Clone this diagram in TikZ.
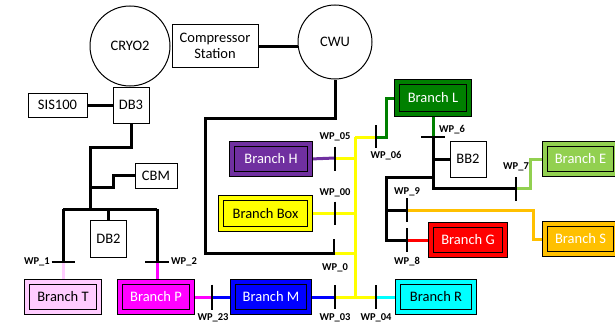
\documentclass[tikz,border=0pt]{standalone}
\usepackage{fontspec}
\setmainfont{Carlito}
\usetikzlibrary{backgrounds,calc}

\definecolor{cT}{HTML}{FFCCFF}
\definecolor{cP}{HTML}{FF00FF}
\definecolor{cM}{HTML}{0000FF}
\definecolor{cR}{HTML}{00FFFF}
\definecolor{cBox}{HTML}{FFFF00}
\definecolor{cH}{HTML}{7030A0}
\definecolor{cL}{HTML}{008000}
\definecolor{cE}{HTML}{92D050}
\definecolor{cS}{HTML}{FFC000}
\definecolor{cG}{HTML}{FF0000}

\tikzset{
  lbl/.style={font=\fontsize{14.5}{16}\selectfont},
  plainbox/.style={draw, line width=1pt, fill=white, inner sep=0pt, align=center, lbl},
  station/.style={draw, circle, line width=1pt, fill=white, inner sep=0pt, lbl},
  branch/.style 2 args={draw, line width=1.2pt, double=#1, double distance=4pt,
    fill=#1, text=#2, inner sep=0pt, lbl, minimum height=29.6pt},
  wire/.style={line width=3pt},
  tick/.style={line width=1.5pt},
  wp/.style={font=\bfseries\fontsize{10.5}{12}\selectfont, inner sep=0pt}
}

\begin{document}
\begin{tikzpicture}[x=1pt,y=-1pt]
\useasboundingbox (0,0) rectangle (615,324);

% plants and distribution boxes
\node[station, minimum size=80pt] (cryo) at (130,46) {CRYO2};
\node[station, minimum size=74pt] (cwu) at (335,42) {CWU};
\node[plainbox, minimum width=86pt, minimum height=43pt] (comp) at (215,46) {Compressor\\Station};
\node[plainbox, minimum width=59pt, minimum height=24pt] (sis) at (57.5,105) {SIS100};
\node[plainbox, minimum width=36pt, minimum height=36pt] (db3) at (131,105) {DB3};
\node[plainbox, minimum width=42pt, minimum height=25pt] (cbm) at (156,175.5) {CBM};
\node[plainbox, minimum width=36pt, minimum height=37pt] (db2) at (108.5,238.5) {DB2};
\node[plainbox, minimum width=36pt, minimum height=36pt] (bb2) at (468,159) {BB2};

% branches
\node[branch={cT}{black}, minimum width=71.6pt] (bT) at (63,297) {Branch T};
\node[branch={cP}{white}, minimum width=71.6pt] (bP) at (156,297) {Branch P};
\node[branch={cM}{white}, minimum width=75.6pt] (bM) at (271,297) {Branch M};
\node[branch={cR}{black}, minimum width=75.6pt] (bR) at (436,297) {Branch R};
\node[branch={cBox}{black}, minimum width=88.6pt, minimum height=30.6pt] (bBox) at (265.5,213.5) {Branch Box};
\node[branch={cH}{white}, minimum width=77.6pt] (bH) at (271,159) {Branch H};
\node[branch={cL}{white}, minimum width=71.6pt, minimum height=31.6pt] (bL) at (433,98) {Branch L};
\node[branch={cE}{white}, minimum width=70.6pt] (bE) at (580.5,159) {Branch E};
\node[branch={cS}{white}, minimum width=70.6pt] (bS) at (580.5,239) {Branch S};
\node[branch={cG}{white}, minimum width=73.6pt] (bG) at (468,240) {Branch G};

% valve (WP) positions
\coordinate (wp1) at (63,262);
\coordinate (wp2) at (157,262);
\coordinate (wp23) at (212,297);
\coordinate (wp03) at (335,297);
\coordinate (wp04) at (376,297);
\coordinate (wp0) at (334,253);
\coordinate (wp00) at (335,213);
\coordinate (wp05) at (335,158);
\coordinate (wp06) at (376,137);
\coordinate (wp6) at (433,137);
\coordinate (wp7) at (516,188);
\coordinate (wp9) at (407,210);
\coordinate (wp8) at (407,240);
\coordinate (busTop) at (355,137);
\coordinate (busBot) at (355,297);

\begin{scope}[on background layer]
  % black transfer lines
  \draw[wire] (comp.east) -- (comp.east -| cwu.west);
  \draw[wire] (sis.east) -- (db3.west);
  \draw[wire] (db3.south) |- (90,147) -- (90,209);
  \draw[wire] (90,187) -- (113,187) |- (cbm.west);
  \draw[wire] (63,209) -- (157,209);
  \draw[wire] (63,209) -- (wp1);
  \draw[wire] (157,209) -- (wp2);
  \draw[wire] (108.5,209) -- (db2.north);
  \draw[wire] (cwu.south) |- (205,118) -- (205,253) -- (wp0);
  \draw[wire] (wp6) -- (433,188) -- (wp7);
  \draw[wire] (433,159) -- (bb2.west);
  \draw[wire] (433,177) -- (386,177) |- (wp8);
  \draw[wire] (386,210) -- (wp9);

  % coloured branch lines
  \draw[wire, cT] (wp1) -- (bT.north);
  \draw[wire, cP] (wp2) -- (bP.north -| wp2);
  \draw[wire, cP] (bP.east) -- (wp23);
  \draw[wire, cM] (wp23) -- (bM.west);
  \draw[wire, cM] (bM.east) -- (wp03);
  \draw[wire, cBox] (wp03) -- (wp04);
  \draw[wire, cR] (wp04) -- (bR.west);
  \draw[wire, cBox] (busTop) -- (busBot);
  \draw[wire, cH] (bH.east) -- (wp05);
  \draw[wire, cBox] (wp05) -- (wp05 -| busTop);
  \draw[wire, cBox] (bBox.east) -- (bBox.east -| busTop);
  \draw[wire, cBox] (wp0) -- (wp0 -| busTop);
  \draw[wire, cBox] (busTop) -- (wp06);
  \draw[wire, cL] (wp06) -- (386,137) |- (bL.west);
  \draw[wire, cL] (bL.south) -- (wp6);
  \draw[wire, cE] (wp7) -- (530,188) |- (bE.west);
  \draw[wire, cS] (wp9) -- (533,210) |- (bS.west);
  \draw[wire, cG] (wp8) -- (bG.west);
\end{scope}

% valve markers
\draw[tick] ($(wp1)+(-11.5,0)$) -- ($(wp1)+(11.5,0)$);
\draw[tick] ($(wp2)+(-12,0)$) -- ($(wp2)+(12,0)$);
\draw[tick] ($(wp6)+(-12,0)$) -- ($(wp6)+(12,0)$);
\draw[tick] ($(wp23)+(0,-12.5)$) -- ($(wp23)+(0,12.5)$);
\draw[tick] ($(wp03)+(0,-12)$) -- ($(wp03)+(0,12)$);
\draw[tick] ($(wp04)+(0,-12)$) -- ($(wp04)+(0,12)$);
\draw[tick] ($(wp0)+(0,-14)$) -- ($(wp0)+(0,2)$);
\draw[tick] ($(wp00)+(0,-11.5)$) -- ($(wp00)+(0,12)$);
\draw[tick] ($(wp05)+(0,-11.5)$) -- ($(wp05)+(0,12.5)$);
\draw[tick] ($(wp06)+(0,-12)$) -- ($(wp06)+(0,11)$);
\draw[tick] ($(wp7)+(0,-11)$) -- ($(wp7)+(0,13)$);
\draw[tick] ($(wp9)+(0,-12)$) -- ($(wp9)+(0,12)$);
\draw[tick] ($(wp8)+(0,-12)$) -- ($(wp8)+(0,12)$);

% valve labels
\node[wp, anchor=east] at (50,262) {WP\_1};
\node[wp, anchor=west] at (171,262) {WP\_2};
\node[wp] at (213,318) {WP\_23};
\node[wp] at (335,318) {WP\_03};
\node[wp] at (376,318) {WP\_04};
\node[wp] at (335,268) {WP\_0};
\node[wp] at (335,193) {WP\_00};
\node[wp] at (335,137) {WP\_05};
\node[wp] at (386,156) {WP\_06};
\node[wp] at (452,130) {WP\_6};
\node[wp] at (516,167) {WP\_7};
\node[wp] at (407,192) {WP\_9};
\node[wp] at (407,262) {WP\_8};
\end{tikzpicture}
\end{document}
